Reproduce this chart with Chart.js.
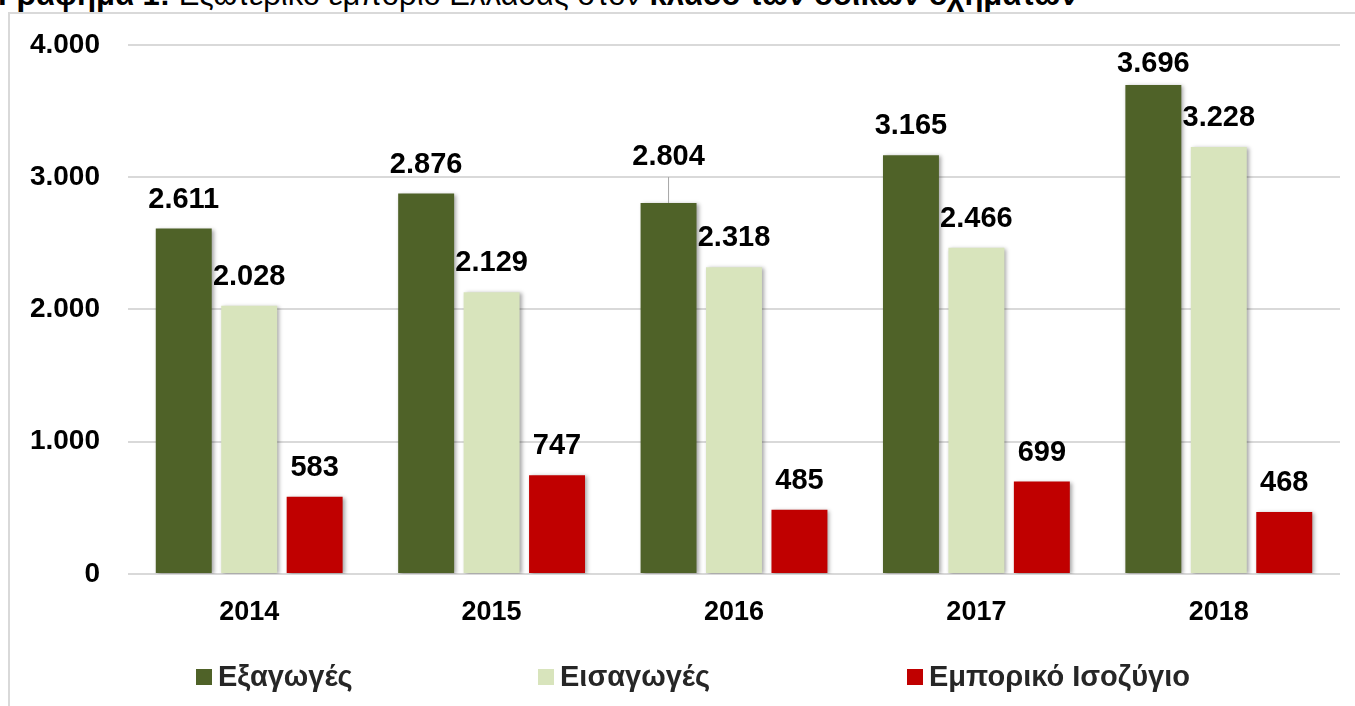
<!DOCTYPE html>
<html>
<head>
<meta charset="utf-8">
<script src="https://cdn.jsdelivr.net/npm/chart.js@4.4.1/dist/chart.umd.min.js"></script>
<style>
    body { margin: 0; width: 1355px; height: 706px; overflow: hidden; background: #fff; position: relative; }
    #title { position: absolute; left: -2px; top: -21px; font: 31px "Liberation Sans", Arial, sans-serif; line-height: 31px; white-space: nowrap; color: #000; }
    #frame { position: absolute; left: 8px; top: 12px; width: 1400px; height: 760px; border: 2px solid #d9d9d9; }
    #myChart { position: absolute; left: 0; top: 0; }
</style>
</head>
<body>
<div id="title"><b>Γράφημα 1:</b> Εξωτερικό εμπόριο Ελλάδας στον <b>κλάδο των οδικών οχημάτων</b></div>
<div id="frame"></div>
<canvas id="myChart" width="1355" height="706"></canvas>
<script>
const years = ['2014', '2015', '2016', '2017', '2018'];
const exportsValues = [2611, 2876, 2804, 3165, 3696];
const importsValues = [2028, 2129, 2318, 2466, 3228];
const balanceValues = [583, 747, 485, 699, 468];
const seriesNames = ['Εξαγωγές', 'Εισαγωγές', 'Εμπορικό Ισοζύγιο'];
const yTicks = [0, 1000, 2000, 3000, 4000];

const FONT = '"Liberation Sans", Arial, sans-serif';

function thousands(v) {
    return String(v).replace(/\B(?=(\d{3})+(?!\d))/g, '.');
}

// label offsets above the bar top; a few were moved by hand in the original
const labelShift = { '0-2': 46, '0-4': 21 };
const leaderLines = { '0-2': true };

const barLook = {
    id: 'barLook',
    beforeDatasetsDraw(chart) {
        const ctx = chart.ctx;
        ctx.save();
        ctx.shadowColor = 'rgba(0,0,0,0.35)';
        ctx.shadowBlur = 4;
        ctx.shadowOffsetX = 2;
        ctx.shadowOffsetY = 1;
    },
    afterDatasetsDraw(chart) {
        const ctx = chart.ctx;
        ctx.restore();
        ctx.save();
        ctx.font = 'bold 29px ' + FONT;
        ctx.fillStyle = '#000';
        ctx.textAlign = 'center';
        ctx.textBaseline = 'middle';
        chart.data.datasets.forEach((ds, di) => {
            chart.getDatasetMeta(di).data.forEach((bar, i) => {
                const key = di + '-' + i;
                const shift = labelShift[key] || 29;
                const ly = bar.y - shift;
                ctx.fillText(thousands(ds.data[i]), bar.x, ly);
                if (leaderLines[key]) {
                    ctx.save();
                    ctx.strokeStyle = '#a6a6a6';
                    ctx.lineWidth = 1;
                    ctx.beginPath();
                    ctx.moveTo(bar.x, ly + 20);
                    ctx.lineTo(bar.x, bar.y);
                    ctx.stroke();
                    ctx.restore();
                }
            });
        });
        ctx.restore();
    }
};

const legendX = [196, 538, 907];
const customLegend = {
    id: 'customLegend',
    afterDraw(chart) {
        const ctx = chart.ctx;
        const y = 677;
        ctx.save();
        ctx.font = 'bold 29px ' + FONT;
        ctx.textBaseline = 'middle';
        ctx.textAlign = 'left';
        chart.data.datasets.forEach((ds, i) => {
            ctx.fillStyle = ds.backgroundColor;
            ctx.fillRect(legendX[i], y - 8, 16, 16);
            ctx.fillStyle = '#262626';
            ctx.fillText(ds.label, legendX[i] + 22, y + 1);
        });
        ctx.restore();
    }
};

const ctx = document.getElementById('myChart').getContext('2d');
const myChart = new Chart(ctx, {
    type: 'bar',
    data: {
        labels: years,
        datasets: [{
            label: seriesNames[0],
            data: exportsValues,
            backgroundColor: '#4f6228'
        }, {
            label: seriesNames[1],
            data: importsValues,
            backgroundColor: '#d8e4bc'
        }, {
            label: seriesNames[2],
            data: balanceValues,
            backgroundColor: '#c00000'
        }]
    },
    options: {
        responsive: false,
        animation: false,
        layout: { padding: { left: 0, right: 15, top: 43, bottom: 78 } },
        datasets: {
            bar: { categoryPercentage: 0.81, barPercentage: 0.855 }
        },
        plugins: {
            legend: { display: false },
            tooltip: { enabled: false }
        },
        scales: {
            x: {
                grid: { display: false, drawTicks: false },
                border: { display: false },
                ticks: {
                    color: '#000',
                    padding: 22,
                    font: { family: FONT, size: 27, weight: 'bold' }
                },
                afterFit(scale) { scale.height = 54; }
            },
            y: {
                min: 0,
                max: 4000,
                afterBuildTicks(scale) {
                    scale.ticks = yTicks.map(v => ({ value: v }));
                },
                grid: { color: '#d9d9d9', lineWidth: 2, drawTicks: false },
                border: { display: false },
                ticks: {
                    color: '#000',
                    padding: 28,
                    font: { family: FONT, size: 28, weight: 'bold' },
                    callback: (v) => thousands(v)
                },
                afterFit(scale) { scale.width = 128; }
            }
        }
    },
    plugins: [barLook, customLegend]
});
</script>
</body>
</html>
